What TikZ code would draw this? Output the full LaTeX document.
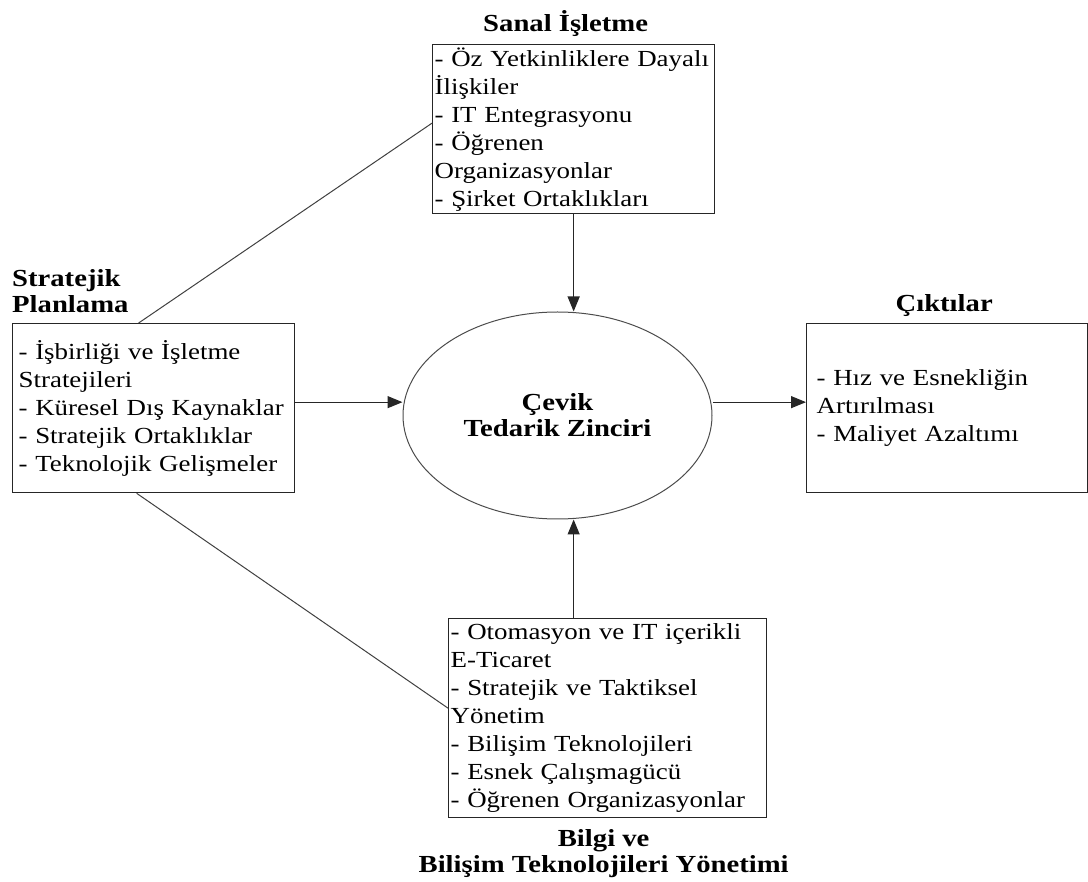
\documentclass[tikz,border=0pt]{standalone}
\usepackage{fontspec}
\setmainfont{Liberation Serif}[FakeStretch=1.17]
\usetikzlibrary{arrows.meta,positioning,shapes.geometric}
\tikzset{
    liste/.style={draw=black!85, line width=1.3pt, rectangle, align=left, inner ysep=0pt,
        font=\fontsize{23}{28}\selectfont, anchor=north west},
    baslik/.style={inner sep=0pt, align=center, font=\bfseries\fontsize{24.5}{26}\selectfont},
    ok/.style={draw=black!85, line width=1.2pt, -{Triangle[length=15pt,width=12pt]}},
    cizgi/.style={draw=black!75, line width=1pt}
}
\begin{document}
\begin{tikzpicture}[x=1pt, y=-1pt]
    \useasboundingbox (0,0) rectangle (1088,882);
    \node[ellipse, draw=black!70, line width=1pt, minimum width=309pt, minimum height=207pt,
        baslik] (A) at (557.5,415.5) {Çevik\\Tedarik Zinciri};
    \node[liste, inner xsep=2pt, text width=278pt, minimum height=169pt] (B) at (432,44)
        {- Öz Yetkinliklere Dayalı\\İlişkiler\\- IT Entegrasyonu\\- Öğrenen\\Organizasyonlar\\- Şirket Ortaklıkları};
    \node[liste, inner xsep=6pt, text width=270pt, minimum height=169pt] (C) at (12,323)
        {- İşbirliği ve İşletme\\Stratejileri\\- Küresel Dış Kaynaklar\\- Stratejik Ortaklıklar\\- Teknolojik Gelişmeler};
    \node[liste, inner xsep=2pt, text width=314pt, minimum height=199pt] (D) at (448,618)
        {- Otomasyon ve IT içerikli\\E-Ticaret\\- Stratejik ve Taktiksel\\Yönetim\\- Bilişim Teknolojileri\\- Esnek Çalışmagücü\\- Öğrenen Organizasyonlar};
    \node[liste, inner xsep=10pt, text width=261pt, minimum height=169pt] (E) at (806,323)
        {- Hız ve Esnekliğin\\Artırılması\\- Maliyet Azaltımı};
    \node[baslik, anchor=base] (Bt) at ([xshift=-8pt,yshift=12pt]B.north) {Sanal İşletme};
    \node[baslik, align=left, above right=10pt and 0pt of C.north west] (Ct) {Stratejik\\Planlama};
    \node[baslik, below=11pt of D, xshift=-4pt] (Dt) {Bilgi ve\\Bilişim Teknolojileri Yönetimi};
    \node[baslik, anchor=base] (Et) at ([xshift=-3pt,yshift=11pt]E.north) {Çıktılar};
    \draw[ok] (B.south) -- (B.south |- A.north);
    \draw[ok] (D.north -| B.south) -- (B.south |- A.south);
    \draw[ok] ([yshift=6pt]C.east) -- ([yshift=6pt]C.east -| A.west);
    \draw[ok] ([yshift=6pt]E.west -| A.east) -- ([yshift=6pt]E.west);
    \draw[cizgi] ([xshift=-15pt]C.north) -- ([yshift=6pt]B.west);
    \draw[cizgi] ([xshift=-17pt]C.south) -- ([yshift=10pt]D.west);
\end{tikzpicture}
\end{document}
